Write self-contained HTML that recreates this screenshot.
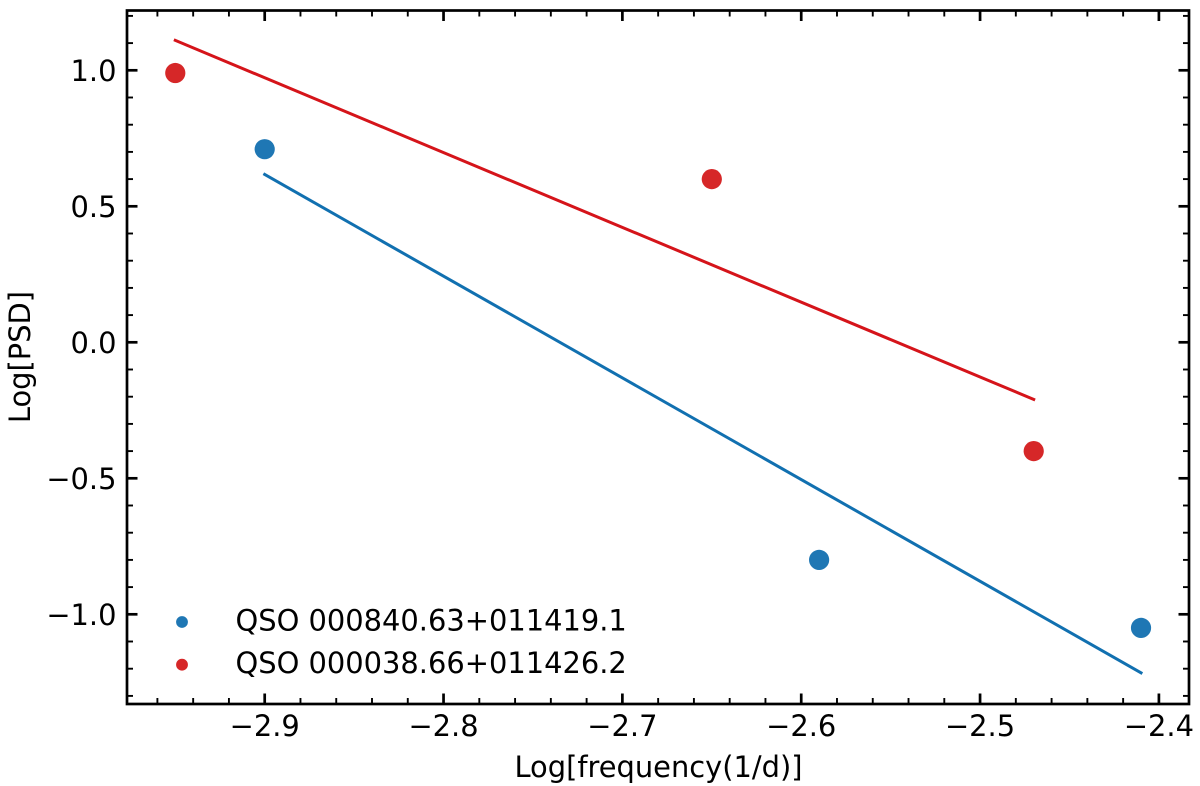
<!DOCTYPE html>
<html>
<head>
<meta charset="utf-8">
<style>
html,body{margin:0;padding:0;background:#fff;}
svg{display:block;}
text{font-family:"DejaVu Sans","Liberation Sans",sans-serif;fill:#000;}
</style>
</head>
<body>
<svg id="chart" width="1200" height="786" viewBox="0 0 1200 786" xmlns="http://www.w3.org/2000/svg"></svg>
<script>
const xTickValues = [-2.9, -2.8, -2.7, -2.6, -2.5, -2.4];
const yTickValues = [1.0, 0.5, 0.0, -0.5, -1.0];
const xTickLabels = ['\u22122.9', '\u22122.8', '\u22122.7', '\u22122.6', '\u22122.5', '\u22122.4'];
const yTickLabels = ['1.0', '0.5', '0.0', '\u22120.5', '\u22121.0'];
const xMinorValues = [-2.96, -2.94, -2.92, -2.88, -2.86, -2.84, -2.82, -2.78, -2.76, -2.74, -2.72, -2.68, -2.66, -2.64, -2.62, -2.58, -2.56, -2.54, -2.52, -2.48, -2.46, -2.44, -2.42];
const yMinorValues = [1.2, 1.1, 0.9, 0.8, 0.7, 0.6, 0.4, 0.3, 0.2, 0.1, -0.1, -0.2, -0.3, -0.4, -0.6, -0.7, -0.8, -0.9, -1.1, -1.2, -1.3];
const blueFreq = [-2.9, -2.59, -2.41];
const bluePsd = [0.71, -0.80, -1.05];
const redFreq = [-2.95, -2.65, -2.47];
const redPsd = [0.99, 0.60, -0.40];
const blueFitFreq = [-2.9, -2.41];
const blueFitPsd = [0.617, -1.215];
const redFitFreq = [-2.95, -2.47];
const redFitPsd = [1.11, -0.21];
const blueName = 'QSO 000840.63+011419.1';
const redName = 'QSO 000038.66+011426.2';

const NS = 'http://www.w3.org/2000/svg';
const svg = document.getElementById('chart');
const AX = {left: 127, right: 1189, top: 10.5, bottom: 704};
function xScale(v) { return 264.7 + (v + 2.9) * 1788.4; }
function yScale(v) { return 342.3 - v * 272; }
function make(tag, attrs, parent) {
  const el = document.createElementNS(NS, tag);
  for (const k in attrs) el.setAttribute(k, attrs[k]);
  (parent || svg).appendChild(el);
  return el;
}
function tick(x1, y1, x2, y2, w) {
  const el = make('line', {x1: x1, y1: y1, x2: x2, y2: y2, stroke: '#000', 'stroke-width': w});
  
  
}

/* fit lines */
function fitLine(xs, ys, color, name) {
  const el = make('line', {x1: xScale(xs[0]), y1: yScale(ys[0]), x2: xScale(xs[1]), y2: yScale(ys[1]), stroke: color, 'stroke-width': 3, 'stroke-linecap': 'square'});
  
  
}
fitLine(redFitFreq, redFitPsd, '#d5141a', 'red-fit-line');
fitLine(blueFitFreq, blueFitPsd, '#1170b0', 'blue-fit-line');

/* points */
function points(xs, ys, color, name) {
  xs.forEach(function (x, i) {
    const el = make('circle', {cx: xScale(x), cy: yScale(ys[i]), r: 10.1, fill: color});
    
    
  });
}
points(blueFreq, bluePsd, '#1f77b4', 'blue-point');
points(redFreq, redPsd, '#d62728', 'red-point');

/* ticks */
xTickValues.forEach(function (v, i) {
  const x = xScale(v);
  tick(x, AX.bottom, x, AX.bottom - 10.5, 2.7);
  tick(x, AX.top, x, AX.top + 10.5, 2.7);
  const t = make('text', {x: x, y: 736, 'text-anchor': 'middle', 'font-size': 28.9});
  t.textContent = xTickLabels[i];
  
  
});
xMinorValues.forEach(function (v) {
  const x = xScale(v);
  tick(x, AX.bottom, x, AX.bottom - 6, 1.9);
  tick(x, AX.top, x, AX.top + 6, 1.9);
});
yTickValues.forEach(function (v, i) {
  const y = yScale(v);
  tick(AX.left, y, AX.left + 10.5, y, 2.7);
  tick(AX.right, y, AX.right - 10.5, y, 2.7);
  const t = make('text', {x: 116.5, y: y + 10.5, 'text-anchor': 'end', 'font-size': 28.9});
  t.textContent = yTickLabels[i];
  
  
});
yMinorValues.forEach(function (v) {
  const y = yScale(v);
  tick(AX.left, y, AX.left + 6, y, 1.9);
  tick(AX.right, y, AX.right - 6, y, 1.9);
});

/* frame */
const frame = make('rect', {x: AX.left, y: AX.top, width: AX.right - AX.left, height: AX.bottom - AX.top, fill: 'none', stroke: '#000', 'stroke-width': 2.7});



/* axis titles */
const xTitle = make('text', {x: 658.5, y: 777, 'text-anchor': 'middle', 'font-size': 28.9});
xTitle.textContent = 'Log[frequency(1/d)]';


const yTitle = make('text', {x: 0, y: 0, 'text-anchor': 'middle', 'font-size': 28.9, transform: 'translate(30,357) rotate(-90)'});
yTitle.textContent = 'Log[PSD]';



/* legend */
const blueMarker = make('circle', {cx: 182, cy: 622, r: 5.9, fill: '#1f77b4'});


const blueLabel = make('text', {x: 235.5, y: 630.5, 'font-size': 28.9});
blueLabel.textContent = blueName;


const redMarker = make('circle', {cx: 182, cy: 664.7, r: 5.9, fill: '#d62728'});


const redLabel = make('text', {x: 235.5, y: 673, 'font-size': 28.9});
redLabel.textContent = redName;


</script>
</body>
</html>
